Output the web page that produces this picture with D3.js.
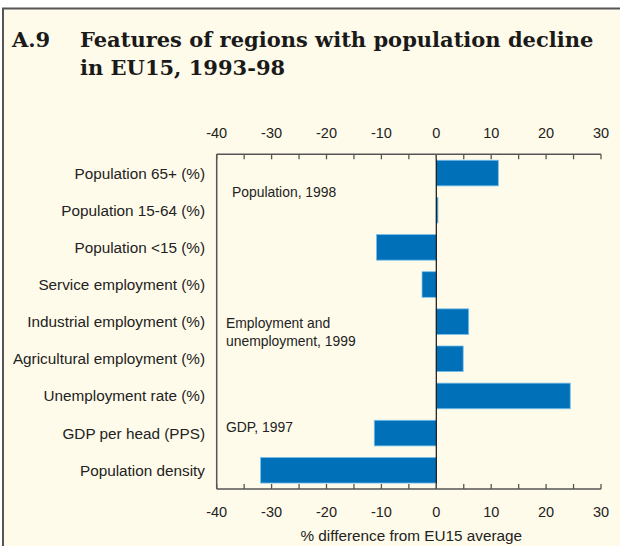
<!DOCTYPE html>
<html>
<head>
<meta charset="utf-8">
<script src="https://cdn.jsdelivr.net/npm/d3@7"></script>
<style>
  body { margin: 0; background: #ffffff; }
  svg { display: block; }
  text { font-family: "Liberation Sans", Arial, sans-serif; fill: #222; }
  .title { font-family: "DejaVu Serif", serif; font-weight: bold; font-size: 21px; fill: #1a1a1a; }
</style>
</head>
<body>
<svg class="d3" width="620" height="546"></svg>
<script>
// categories top to bottom
var categories = [
  "Population 65+ (%)",
  "Population 15-64 (%)",
  "Population <15 (%)",
  "Service employment (%)",
  "Industrial employment (%)",
  "Agricultural employment (%)",
  "Unemployment rate (%)",
  "GDP per head (PPS)",
  "Population density"
];
// % difference from EU15 average
var values = [11.3, 0.3, -10.9, -2.6, 5.9, 4.9, 24.4, -11.3, -32.0];
var tickValues = [-40, -30, -20, -10, 0, 10, 20, 30];
var groupNotes = [
  { lines: ["Population, 1998"], at: 0 },
  { lines: ["Employment and", "unemployment, 1999"], at: 4 },
  { lines: ["GDP, 1997"], at: 7 }
];

var svg = d3.select("svg.d3"),
    width = +svg.attr("width"),
    height = +svg.attr("height");

// panel frame
svg.append("rect")
    .attr("x", 3).attr("y", 8.5)
    .attr("width", width + 10).attr("height", height)
    .attr("fill", "#fffbea")
    .attr("stroke", "#555")
    .attr("stroke-width", 2);

// title
var title = svg.append("g");
title.append("text").attr("class", "title").attr("x", 12).attr("y", 47).text("A.9");
title.append("text").attr("class", "title").attr("x", 80).attr("y", 47)
    .text("Features of regions with population decline");
title.append("text").attr("class", "title").attr("x", 80).attr("y", 75)
    .text("in EU15, 1993-98");

var plotLeft = 216.7, plotRight = 601, plotTop = 154.3, plotBottom = 489;

var x = d3.scaleLinear().domain([-40, 30]).range([plotLeft, plotRight]);
var y = d3.scaleBand().domain(categories).range([plotTop, plotBottom])
    .paddingInner(0.31).paddingOuter(0.16);

// bars
svg.append("g").selectAll("rect")
    .data(values)
  .enter().append("rect")
    .attr("x", function(d) { return x(Math.min(0, d)); })
    .attr("y", function(d, i) { return y(categories[i]); })
    .attr("width", function(d) { return Math.abs(x(d) - x(0)); })
    .attr("height", y.bandwidth())
    .attr("fill", "#0071b9")
    .attr("stroke", "#7cc0ea")
    .attr("stroke-width", 0.8);

// zero line
svg.append("line")
    .attr("x1", x(0)).attr("x2", x(0))
    .attr("y1", plotTop).attr("y2", plotBottom)
    .attr("stroke", "#111").attr("stroke-width", 1.2);

// axes (major + minor ticks pointing into plot)
function drawAxis(yPos, dir, labelY) {
  var g = svg.append("g");
  g.append("line")
      .attr("x1", plotLeft).attr("x2", plotRight)
      .attr("y1", yPos).attr("y2", yPos)
      .attr("stroke", "#555").attr("stroke-width", 1.5);
  g.selectAll("line.tick")
      .data(d3.range(-40, 31, 5))
    .enter().append("line")
      .attr("class", "tick")
      .attr("x1", function(d) { return x(d); })
      .attr("x2", function(d) { return x(d); })
      .attr("y1", yPos).attr("y2", yPos + dir * 5)
      .attr("stroke", "#555").attr("stroke-width", 1.3);
  g.selectAll("text")
      .data(tickValues)
    .enter().append("text")
      .attr("x", function(d) { return x(d); })
      .attr("y", labelY)
      .attr("text-anchor", "middle")
      .attr("font-size", "14.5px")
      .text(function(d) { return d; });
}
drawAxis(plotTop, 1, 138);
drawAxis(plotBottom, -1, 517);

// left axis line
svg.append("line")
    .attr("x1", plotLeft).attr("x2", plotLeft)
    .attr("y1", plotTop).attr("y2", plotBottom)
    .attr("stroke", "#555").attr("stroke-width", 1.5);

// category labels
svg.append("g").selectAll("text")
    .data(categories)
  .enter().append("text")
    .attr("x", 205)
    .attr("y", function(d) { return y(d) + y.bandwidth() / 2 + 5.5; })
    .attr("text-anchor", "end")
    .attr("font-size", "15.3px")
    .text(function(d) { return d; });

// group notes
groupNotes.forEach(function(n) {
  var t = svg.append("text")
      .attr("font-size", "13.9px");
  var y0 = n.at === 0 ? 197 : (n.at === 4 ? 328 : 432);
  n.lines.forEach(function(l, i) {
    t.append("tspan").attr("x", n.at === 0 ? 232 : 226).attr("y", y0 + i * 18).text(l);
  });
});

// axis title
svg.append("text")
    .attr("x", x(0) - 25)
    .attr("y", 541)
    .attr("text-anchor", "middle")
    .attr("font-size", "15.3px")
    .text("% difference from EU15 average");
</script>
</body>
</html>
